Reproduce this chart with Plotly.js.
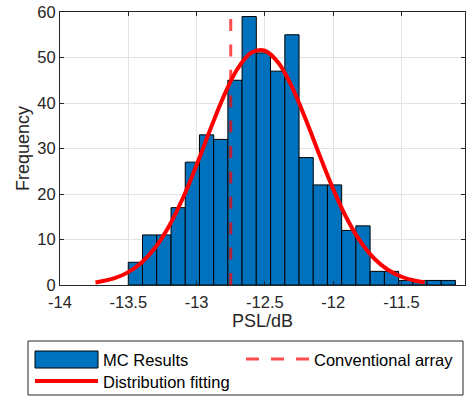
<!DOCTYPE html>
<html>
<head>
<meta charset="utf-8">
<script src="https://cdn.plot.ly/plotly-3.0.1.min.js"></script>
<style>html,body{margin:0;padding:0;background:#fff;}#chart{width:466px;height:396px;}</style>
</head>
<body>
<div id="chart"></div>
<script>
// Histogram bins (centers, dB) and counts
var binCenters = [-13.448, -13.344, -13.240, -13.135, -13.031, -12.927, -12.823, -12.719,
  -12.615, -12.511, -12.406, -12.302, -12.198, -12.094, -11.990, -11.886, -11.782,
  -11.677, -11.573, -11.469, -11.365, -11.261, -11.157];
var binWidth = 0.1042;
var counts = [5, 11, 11, 17, 27, 33, 32, 45, 59, 51, 47, 55, 28, 22, 22, 12, 13, 3, 3, 1, 1, 1, 1];

// Distribution fitting curve
var fitX = [-13.74, -13.6, -13.5, -13.4, -13.3, -13.2, -13.1, -13.0, -12.9, -12.8, -12.7, -12.6,
  -12.5, -12.4, -12.3, -12.2, -12.1, -12.0, -11.9, -11.8, -11.7, -11.6, -11.5, -11.4, -11.33];
var fitY = [0.56, 1.50, 2.83, 5.01, 8.34, 13.03, 19.13, 26.38, 34.17, 41.58, 47.53, 51.04,
  51.49, 48.79, 43.43, 36.33, 28.54, 21.07, 14.61, 9.51, 5.82, 3.35, 1.81, 0.92, 0.55];

// Conventional array PSL
var convX = [-12.75, -12.75];
var convY = [0, 60];

var xTickVals = [-14, -13.5, -13, -12.5, -12, -11.5];
var xTickText = ["-14", "-13.5", "-13", "-12.5", "-12", "-11.5"];

var seriesNames = ["MC Results", "Conventional array", "Distribution fitting"];

var FONT = "Liberation Sans, Arial, Helvetica, sans-serif";
var INK = "#262626";
var BLUE = "#0072BD";
var DASHRED = "rgba(255,0,0,0.7)";
var DASH = "12px,13.4px";

var M = {l: 60, r: 1, t: 12, b: 111};
var W = 466, H = 396;
var PW = W - M.l - M.r, PH = H - M.t - M.b;
function px(x) { return (x - M.l) / PW; }
function py(y) { return (H - M.b - y) / PH; }

var traces = [
  {
    type: "bar", x: binCenters, y: counts, width: binWidth,
    name: seriesNames[0], showlegend: false,
    marker: {color: BLUE, line: {color: "#000000", width: 1}}
  },
  {
    type: "scatter", mode: "lines", x: fitX, y: fitY,
    name: seriesNames[2], showlegend: false,
    line: {color: "#ff0000", width: 4, shape: "spline"}
  },
  {
    type: "scatter", mode: "lines", x: convX, y: convY,
    name: seriesNames[1], showlegend: false,
    line: {color: DASHRED, width: 3, dash: DASH}
  }
];

// Hand-drawn legend (MATLAB style, two columns)
var shapes = [
  {type: "rect", xref: "paper", yref: "paper", x0: px(28), x1: px(463), y0: py(341), y1: py(395),
   line: {color: INK, width: 1}, fillcolor: "#ffffff", layer: "above"},
  {type: "rect", xref: "paper", yref: "paper", x0: px(35), x1: px(98), y0: py(351), y1: py(368),
   line: {color: "#000000", width: 1}, fillcolor: BLUE, layer: "above"},
  {type: "line", xref: "paper", yref: "paper", x0: px(246), x1: px(309), y0: py(359), y1: py(359),
   line: {color: DASHRED, width: 3, dash: "13px,12px"}, layer: "above"},
  {type: "line", xref: "paper", yref: "paper", x0: px(35), x1: px(98), y0: py(381), y1: py(381),
   line: {color: "#ff0000", width: 4}, layer: "above"}
];
function legText(t, x, y) {
  return {text: t, xref: "paper", yref: "paper", x: px(x), y: py(y), xanchor: "left", yanchor: "middle",
          showarrow: false, font: {family: FONT, size: 16.5, color: "#000000"}};
}
var annotations = [
  legText(seriesNames[0], 101, 360),
  legText(seriesNames[1], 312, 360),
  legText(seriesNames[2], 101, 382)
];

var layout = {
  width: W, height: H,
  margin: M,
  paper_bgcolor: "#ffffff", plot_bgcolor: "#ffffff",
  font: {family: FONT, size: 16.5, color: INK},
  bargap: 0,
  showlegend: false,
  shapes: shapes,
  annotations: annotations,
  xaxis: {
    range: [-14, -11.035], tickvals: xTickVals, ticktext: xTickText,
    ticks: "inside", ticklen: 4, tickcolor: INK, ticklabelstandoff: 2,
    showline: true, linecolor: INK, linewidth: 1, mirror: "ticks",
    showgrid: true, gridcolor: "#e3e3e3", zeroline: false,
    title: {text: "PSL/dB", font: {size: 18, color: INK}, standoff: 4}
  },
  yaxis: {
    range: [0, 60], dtick: 10,
    ticks: "inside", ticklen: 4, tickcolor: INK,
    showline: true, linecolor: INK, linewidth: 1, mirror: "ticks",
    showgrid: true, gridcolor: "#e3e3e3", zeroline: false,
    title: {text: "Frequency", font: {size: 18, color: INK}, standoff: 3}
  }
};

Plotly.newPlot("chart", traces, layout, {displayModeBar: false, staticPlot: true});
</script>
</body>
</html>
